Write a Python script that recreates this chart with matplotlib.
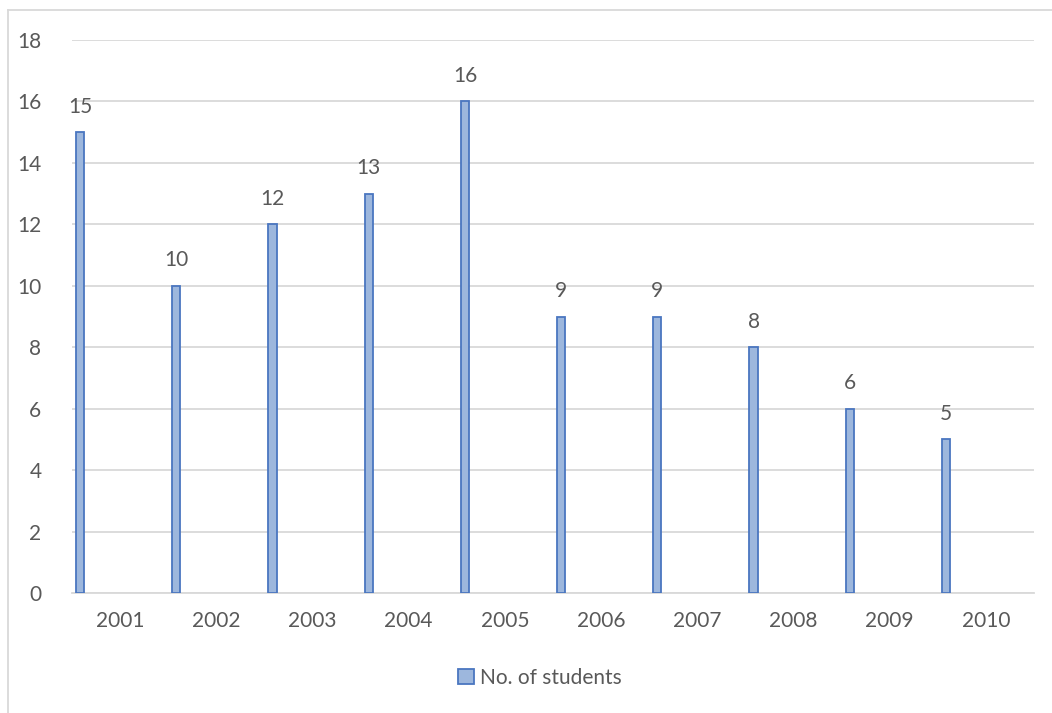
import matplotlib.pyplot as plt
import numpy as np

# Years and number of students per year
years = ["2001", "2002", "2003", "2004", "2005", "2006", "2007", "2008", "2009", "2010"]
students = [15, 10, 12, 13, 16, 9, 9, 8, 6, 5]

plt.rcParams['font.family'] = ['Lato', 'DejaVu Sans']
text_color = '#595959'

fig = plt.figure(figsize=(10.52, 7.13), dpi=100)
ax = fig.add_axes([72 / 1052, 1 - 593 / 713, (1034 - 72) / 1052, (593 - 40) / 713])

# bars sit near the left edge of each category slot (Excel clustered look)
x = np.arange(len(years))
bar_w = 0.085
bars = ax.bar(x - 0.5 + 0.085, students, width=bar_w, color='#9db7dd',
              edgecolor='#4a76c0', linewidth=1.3, label='No. of students', zorder=3)

for xi, v in zip(x - 0.5 + 0.085, students):
    ax.text(xi, v + 0.5, str(v), ha='center', va='bottom', fontsize=15, color=text_color)

ax.set_xlim(-0.5, len(years) - 0.5)
ax.set_ylim(0, 18)
ax.set_yticks(range(0, 19, 2))
ax.set_xticks(x)
ax.set_xticklabels(years)
ax.tick_params(axis='both', length=0, labelsize=15, labelcolor=text_color)
ax.tick_params(axis='y', pad=22)
ax.tick_params(axis='x', pad=13)

ax.grid(axis='y', color='#d9d9d9', linewidth=1.3, zorder=0)
for s in ['top', 'right', 'left']:
    ax.spines[s].set_visible(False)
ax.spines['bottom'].set_color('#d9d9d9')
ax.spines['bottom'].set_linewidth(1.3)

# outer chart border (left and top visible)
fig.add_artist(plt.Line2D([8 / 1052, 8 / 1052], [0, 1 - 10 / 713], color='#d9d9d9', linewidth=1.3))
fig.add_artist(plt.Line2D([8 / 1052, 1], [1 - 10 / 713, 1 - 10 / 713], color='#d9d9d9', linewidth=1.3))

leg = fig.legend(handles=[bars], labels=['No. of students'], loc='center',
                 bbox_to_anchor=(540 / 1052, 1 - 678 / 713), frameon=False,
                 fontsize=15, handlelength=0.75, handleheight=0.75, handletextpad=0.3)
for t in leg.get_texts():
    t.set_color(text_color)

fig.savefig('out.png', dpi=100)
